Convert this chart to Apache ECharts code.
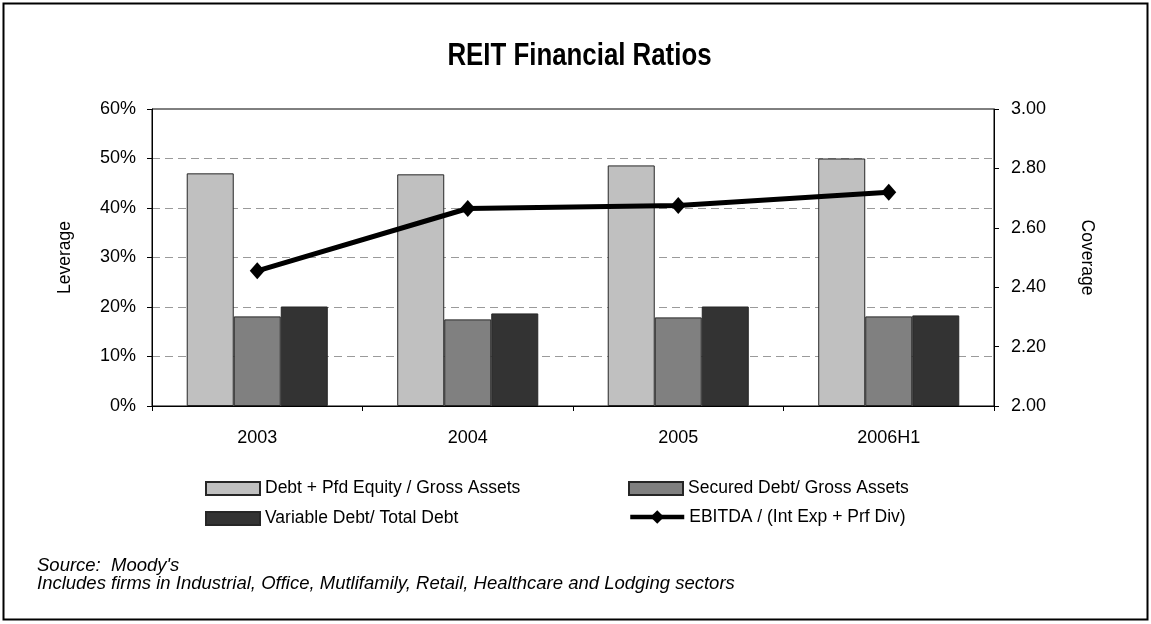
<!DOCTYPE html>
<html>
<head>
<meta charset="utf-8">
<script src="https://cdn.jsdelivr.net/npm/echarts@6/dist/echarts.min.js"></script>
<style>
  html, body { margin: 0; padding: 0; background: #fff; }
  #chart { width: 1151px; height: 624px; }
</style>
</head>
<body>
<div id="chart"></div>
<script>
// Categories and series values
const years = ['2003', '2004', '2005', '2006H1'];
const debtPfdEquity = [0.470, 0.468, 0.486, 0.500];
const securedDebt = [0.181, 0.175, 0.179, 0.181];
const variableDebt = [0.201, 0.187, 0.201, 0.183];
const ebitdaCoverage = [2.455, 2.665, 2.675, 2.72];

const seriesNames = [
  'Debt + Pfd Equity / Gross Assets',
  'Secured Debt/ Gross Assets',
  'Variable Debt/ Total Debt',
  'EBITDA / (Int Exp + Prf Div)'
];

const chartTitle = 'REIT Financial Ratios';
const footnotes = "Source:  Moody's\nIncludes firms in Industrial, Office, Mutlifamily, Retail, Healthcare and Lodging sectors";

const SANS = "'Liberation Sans', Arial, sans-serif";

const chart = echarts.init(document.getElementById('chart'), null, { renderer: 'canvas' });

const legendBase = {
  orient: 'horizontal',
  icon: 'rect',
  itemWidth: 54,
  itemHeight: 13,
  itemGap: 6,
  selectedMode: false,
  textStyle: { fontFamily: SANS, fontSize: 17.5, color: '#000' },
  padding: 0
};

const barStyle = (color) => ({
  color: color,
  borderColor: '#262626',
  borderWidth: 1
});

const tickFont = { fontFamily: SANS, fontSize: 18, color: '#000' };

chart.setOption({
  animation: false,
  backgroundColor: '#fff',
  grid: {
    left: 152,
    right: 157,
    top: 109,
    height: 297,
    show: true,
    borderColor: '#000',
    borderWidth: 1,
    backgroundColor: 'transparent'
  },
  legend: [
    Object.assign({}, legendBase, { left: 205, top: 479.5, data: [seriesNames[0]] }),
    Object.assign({}, legendBase, { left: 628, top: 479.5, data: [seriesNames[1]] }),
    Object.assign({}, legendBase, { left: 205, top: 509.5, data: [seriesNames[2]] }),
    Object.assign({}, legendBase, {
      left: 628, top: 508, itemHeight: 17, icon: null,
      lineStyle: { width: 4.5, color: '#000' },
      itemStyle: { color: '#000' },
      data: [seriesNames[3]]
    })
  ],
  xAxis: {
    type: 'category',
    data: years,
    boundaryGap: true,
    axisLine: { lineStyle: { color: '#000', width: 1 } },
    axisTick: { show: true, inside: false, length: 5, lineStyle: { color: '#000' } },
    axisLabel: Object.assign({ margin: 23 }, tickFont),
    splitLine: { show: false }
  },
  yAxis: [
    {
      type: 'value',
      min: 0,
      max: 0.6,
      interval: 0.1,
      position: 'left',
      name: 'Leverage',
      nameLocation: 'middle',
      nameGap: 78,
      nameRotate: 90,
      nameTextStyle: { fontFamily: SANS, fontSize: 17.5, color: '#000' },
      axisLine: { show: true, lineStyle: { color: '#000', width: 1 } },
      axisTick: { show: true, inside: false, length: 5, lineStyle: { color: '#000' } },
      axisLabel: Object.assign({
        margin: 16,
        formatter: (v) => Math.round(v * 100) + '%'
      }, tickFont),
      splitLine: {
        show: true,
        showMinLine: false,
        showMaxLine: false,
        lineStyle: { color: '#9a9a9a', width: 1, type: [8, 5] }
      }
    },
    {
      type: 'value',
      min: 2,
      max: 3,
      interval: 0.2,
      position: 'right',
      name: 'Coverage',
      nameLocation: 'middle',
      nameGap: 84,
      nameRotate: -90,
      nameTextStyle: { fontFamily: SANS, fontSize: 17.5, color: '#000' },
      axisLine: { show: true, lineStyle: { color: '#000', width: 1 } },
      axisTick: { show: true, inside: false, length: 5, lineStyle: { color: '#000' } },
      axisLabel: Object.assign({
        margin: 17,
        formatter: (v) => v.toFixed(2)
      }, tickFont),
      splitLine: { show: false }
    }
  ],
  series: [
    {
      name: seriesNames[0],
      type: 'bar',
      yAxisIndex: 0,
      data: debtPfdEquity,
      barGap: '0%',
      barCategoryGap: '33%',
      itemStyle: barStyle('#c0c0c0')
    },
    {
      name: seriesNames[1],
      type: 'bar',
      yAxisIndex: 0,
      data: securedDebt,
      barGap: '0%',
      barCategoryGap: '33%',
      itemStyle: barStyle('#808080')
    },
    {
      name: seriesNames[2],
      type: 'bar',
      yAxisIndex: 0,
      data: variableDebt,
      barGap: '0%',
      barCategoryGap: '33%',
      itemStyle: barStyle('#333333')
    },
    {
      name: seriesNames[3],
      type: 'line',
      yAxisIndex: 1,
      data: ebitdaCoverage,
      symbol: 'diamond',
      symbolSize: [15, 17],
      showAllSymbol: true,
      lineStyle: { color: '#000', width: 5 },
      itemStyle: { color: '#000' },
      z: 5
    }
  ],
  graphic: [
    {
      type: 'rect',
      shape: { x: 3.5, y: 3.5, width: 1144, height: 616 },
      style: { fill: 'none', stroke: '#000', lineWidth: 2 },
      silent: true
    },
    {
      // condensed bold title
      type: 'text',
      x: 579.5,
      y: 56,
      scaleX: 0.82,
      style: {
        text: chartTitle,
        font: "bold 31.5px " + SANS,
        fill: '#000',
        textAlign: 'center',
        textVerticalAlign: 'middle'
      }
    },
    {
      type: 'text',
      left: 37,
      top: 556,
      style: {
        text: footnotes,
        font: "italic 18.5px " + SANS,
        lineHeight: 18,
        fill: '#000'
      }
    }
  ]
});
</script>
</body>
</html>
